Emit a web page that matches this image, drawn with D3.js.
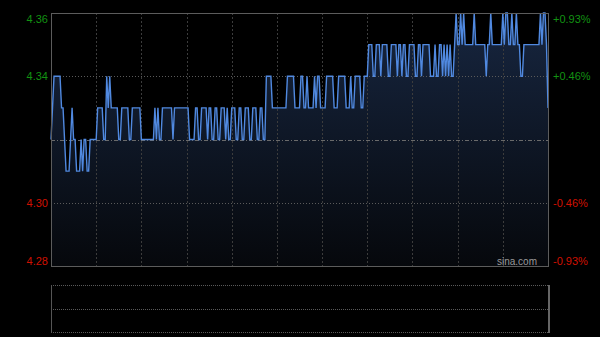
<!DOCTYPE html>
<html>
<head>
<meta charset="utf-8">
<script src="https://d3js.org/d3.v7.min.js"></script>
<style>
  body { margin: 0; background: #000; }
  svg { display: block; }
  text { font-family: Arial, "Liberation Sans", sans-serif; font-size: 11px; }
</style>
</head>
<body>
<svg id="chart" width="600" height="337"></svg>
<script>
// previous close and y tick labels
const prevClose = 4.32;
const priceTicks = [4.36, 4.34, 4.30, 4.28];
const pctLabels = ['+0.93%', '+0.46%', '-0.46%', '-0.93%'];

// one price per trading minute (HK session, 330 minutes)
const prices = [
  4.32, 4.33, 4.34, 4.34, 4.34, 4.34, 4.34, 4.33, 4.33, 4.32,
  4.31, 4.31, 4.31, 4.32, 4.33, 4.32, 4.32, 4.31, 4.31, 4.31,
  4.32, 4.31, 4.32, 4.32, 4.31, 4.31, 4.32, 4.32, 4.32, 4.32,
  4.32, 4.33, 4.33, 4.33, 4.33, 4.32, 4.32, 4.34, 4.33, 4.34,
  4.33, 4.33, 4.33, 4.33, 4.33, 4.32, 4.32, 4.33, 4.33, 4.33,
  4.33, 4.33, 4.32, 4.32, 4.33, 4.33, 4.33, 4.33, 4.33, 4.33,
  4.32, 4.32, 4.32, 4.32, 4.32, 4.32, 4.32, 4.32, 4.32, 4.33,
  4.32, 4.33, 4.32, 4.32, 4.33, 4.33, 4.33, 4.33, 4.33, 4.33,
  4.33, 4.32, 4.33, 4.33, 4.33, 4.33, 4.33, 4.33, 4.33, 4.33,
  4.33, 4.33, 4.32, 4.32, 4.32, 4.32, 4.33, 4.33, 4.32, 4.32,
  4.33, 4.33, 4.33, 4.33, 4.32, 4.33, 4.33, 4.32, 4.32, 4.33,
  4.33, 4.32, 4.32, 4.33, 4.33, 4.33, 4.32, 4.33, 4.32, 4.32,
  4.33, 4.33, 4.33, 4.32, 4.32, 4.33, 4.33, 4.32, 4.32, 4.33,
  4.33, 4.33, 4.32, 4.32, 4.33, 4.33, 4.33, 4.32, 4.32, 4.33,
  4.33, 4.32, 4.32, 4.34, 4.34, 4.34, 4.34, 4.33, 4.33, 4.33,
  4.33, 4.33, 4.33, 4.33, 4.33, 4.33, 4.33, 4.34, 4.34, 4.34,
  4.34, 4.34, 4.33, 4.33, 4.33, 4.33, 4.34, 4.34, 4.33, 4.33,
  4.34, 4.33, 4.33, 4.33, 4.33, 4.34, 4.33, 4.34, 4.34, 4.33,
  4.33, 4.33, 4.33, 4.34, 4.34, 4.34, 4.34, 4.34, 4.33, 4.33,
  4.33, 4.34, 4.34, 4.34, 4.34, 4.34, 4.33, 4.33, 4.33, 4.34,
  4.33, 4.33, 4.34, 4.34, 4.34, 4.34, 4.33, 4.33, 4.34, 4.34,
  4.34, 4.35, 4.35, 4.35, 4.34, 4.34, 4.35, 4.35, 4.35, 4.34,
  4.35, 4.35, 4.35, 4.35, 4.34, 4.34, 4.35, 4.35, 4.35, 4.35,
  4.34, 4.35, 4.35, 4.34, 4.35, 4.35, 4.34, 4.34, 4.35, 4.35,
  4.35, 4.35, 4.34, 4.34, 4.35, 4.35, 4.34, 4.35, 4.35, 4.35,
  4.35, 4.35, 4.34, 4.34, 4.34, 4.35, 4.34, 4.34, 4.35, 4.35,
  4.34, 4.35, 4.34, 4.35, 4.34, 4.35, 4.34, 4.34, 4.35, 4.36,
  4.35, 4.35, 4.36, 4.35, 4.36, 4.35, 4.35, 4.35, 4.35, 4.35,
  4.35, 4.36, 4.35, 4.35, 4.35, 4.35, 4.35, 4.35, 4.35, 4.34,
  4.35, 4.35, 4.36, 4.35, 4.35, 4.35, 4.35, 4.35, 4.35, 4.35,
  4.36, 4.35, 4.36, 4.36, 4.35, 4.35, 4.36, 4.35, 4.35, 4.36,
  4.35, 4.35, 4.34, 4.34, 4.35, 4.35, 4.35, 4.35, 4.35, 4.35,
  4.35, 4.35, 4.35, 4.35, 4.35, 4.36, 4.35, 4.36, 4.36, 4.35,
  4.33
];

const svg = d3.select('#chart');
const plotL = 51, plotR = 548, plotT = 13, plotB = 266;
const volTop = 285, volBottom = 332;

const x = d3.scaleLinear().domain([0, 330]).range([plotL, plotR]);
const y = d3.scaleLinear().domain([4.28, 4.36]).range([plotB, plotT]);

// gradient under the price line
const grad = svg.append('defs').append('linearGradient')
  .attr('id', 'fill').attr('gradientUnits', 'userSpaceOnUse')
  .attr('x1', 0).attr('x2', 0).attr('y1', plotT).attr('y2', plotB);
grad.append('stop').attr('offset', 0).attr('stop-color', '#172640');
grad.append('stop').attr('offset', 1).attr('stop-color', '#06080c');

const area = d3.area()
  .x((d, i) => x(i))
  .y0(plotB)
  .y1(d => y(d));
svg.append('path').datum(prices)
  .attr('d', area)
  .attr('fill', 'url(#fill)');

// vertical grid every 30 minutes
const halfHours = d3.range(30, 330, 30);
svg.selectAll('.vgrid').data(halfHours).enter().append('line')
  .attr('x1', d => Math.round(x(d)) + 0.5).attr('x2', d => Math.round(x(d)) + 0.5)
  .attr('y1', plotT).attr('y2', plotB)
  .attr('stroke', '#3c3c3c').attr('stroke-dasharray', '2,2');

// horizontal grid
svg.selectAll('.hgrid').data([4.34, 4.30]).enter().append('line')
  .attr('x1', plotL).attr('x2', plotR)
  .attr('y1', d => Math.round(y(d)) + 0.5).attr('y2', d => Math.round(y(d)) + 0.5)
  .attr('stroke', '#5a5a5a').attr('stroke-dasharray', '1,2');

// previous close line
svg.append('line')
  .attr('x1', plotL).attr('x2', plotR)
  .attr('y1', Math.round(y(prevClose)) + 0.5).attr('y2', Math.round(y(prevClose)) + 0.5)
  .attr('stroke', '#6a6a6a').attr('stroke-dasharray', '4,2,1,2');

// price line
const line = d3.line()
  .x((d, i) => x(i))
  .y(d => y(d));
svg.append('path').datum(prices)
  .attr('d', line)
  .attr('fill', 'none')
  .attr('stroke', '#5089e0')
  .attr('stroke-width', 1.4)
  .attr('stroke-linejoin', 'miter');

// frame of the price panel
svg.append('rect')
  .attr('x', plotL + 0.5).attr('y', plotT + 0.5)
  .attr('width', plotR - plotL).attr('height', plotB - plotT)
  .attr('fill', 'none').attr('stroke', '#5c5c5c');

// volume panel frame
[volTop, (volTop + volBottom) / 2, volBottom].forEach(v => {
  svg.append('line')
    .attr('x1', plotL).attr('x2', plotR)
    .attr('y1', Math.round(v) + 0.5).attr('y2', Math.round(v) + 0.5)
    .attr('stroke', '#5a5a5a').attr('stroke-dasharray', '1,1');
});
svg.append('line').attr('x1', plotL + 0.5).attr('x2', plotL + 0.5)
  .attr('y1', volTop).attr('y2', volBottom + 1).attr('stroke', '#555');
svg.append('line').attr('x1', plotR + 1).attr('x2', plotR + 1)
  .attr('y1', volTop).attr('y2', volBottom + 1).attr('stroke', '#666').attr('stroke-width', 2);

// axis labels
const labelY = d => Math.max(plotT + 6, Math.min(plotB - 5, y(d)));
const color = d => d > prevClose ? '#129212' : '#d01000';

svg.selectAll('.lbl').data(priceTicks).enter().append('text')
  .attr('x', 48).attr('y', d => labelY(d))
  .attr('dy', '0.35em')
  .attr('text-anchor', 'end')
  .attr('fill', color)
  .text(d => d.toFixed(2));

svg.selectAll('.pct').data(priceTicks).enter().append('text')
  .attr('x', 553).attr('y', d => labelY(d))
  .attr('dy', '0.35em')
  .attr('fill', color)
  .text((d, i) => pctLabels[i]);

svg.append('text')
  .attr('x', 537).attr('y', 261).attr('dy', '0.35em')
  .attr('text-anchor', 'end')
  .attr('fill', '#9a9a9a')
  .style('font-size', '10px')
  .text('sina.com');
</script>
</body>
</html>
